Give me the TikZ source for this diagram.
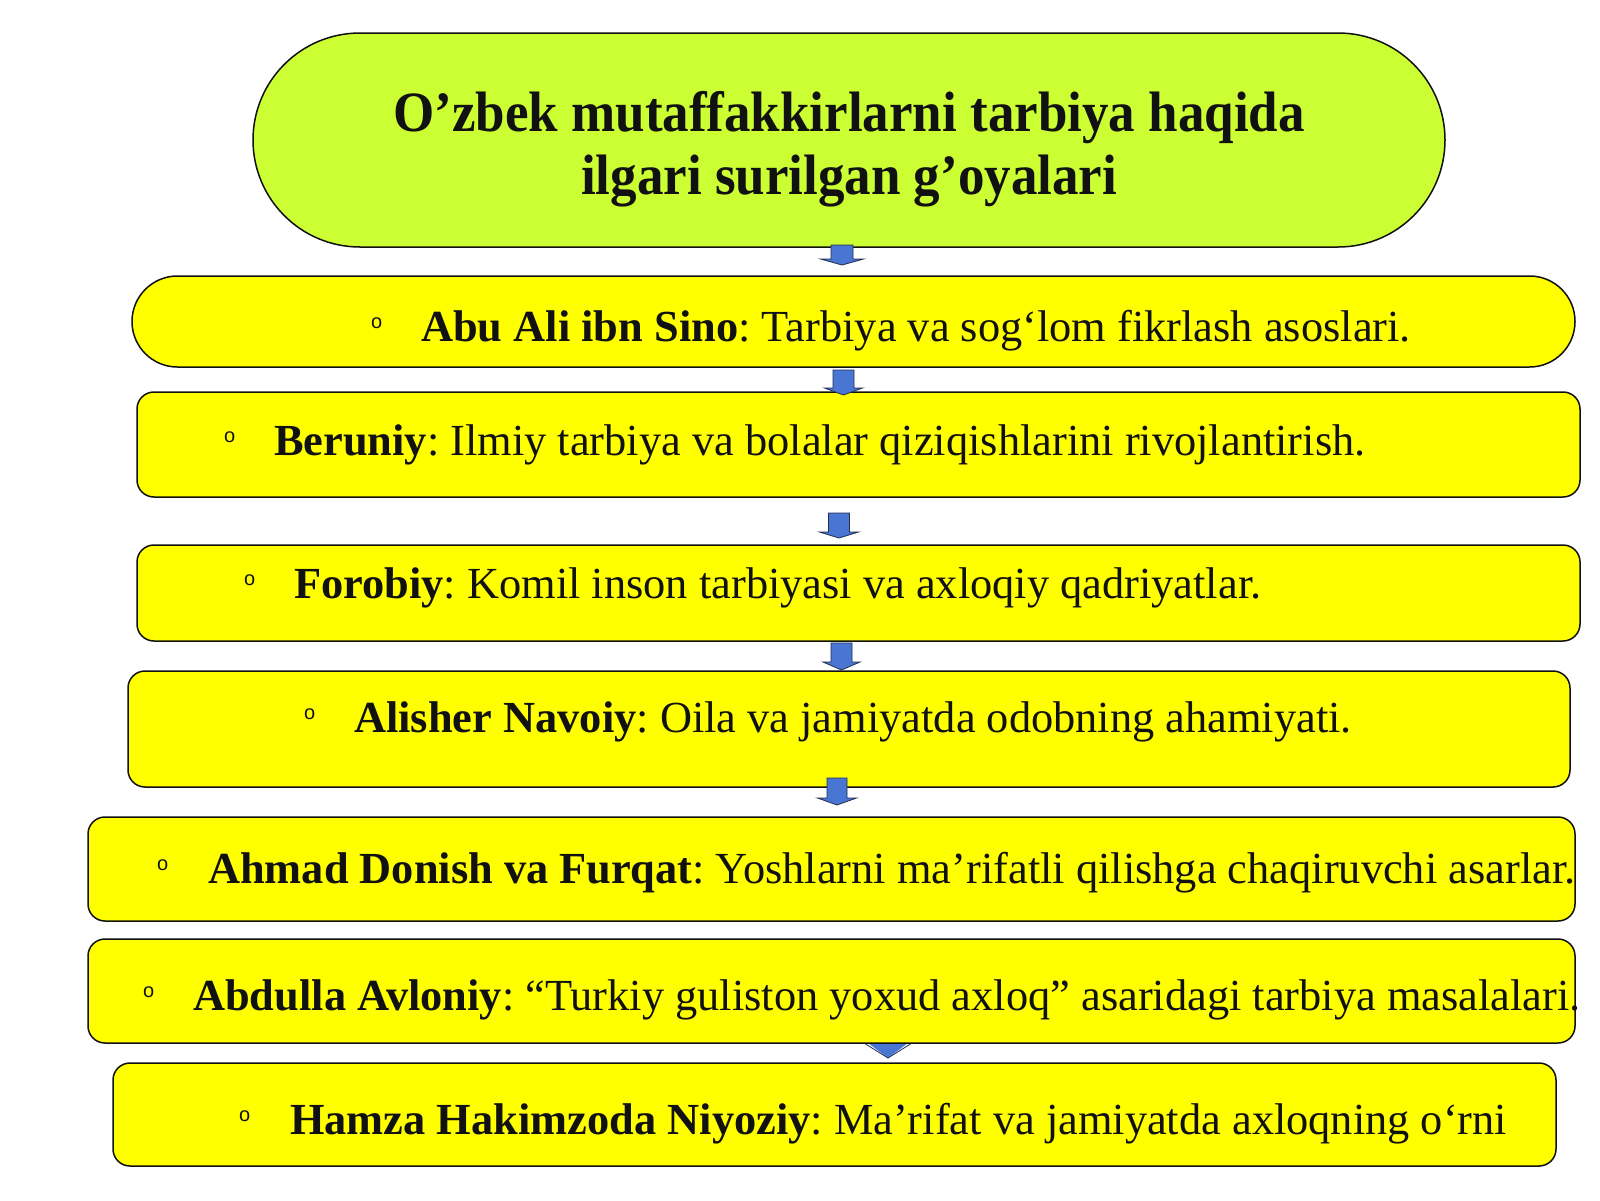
\documentclass[tikz,border=0pt]{standalone}
\usepackage{fontspec}
\setmainfont{Liberation Serif}
\newfontfamily\bulletfont{Liberation Sans}
\frenchspacing
\definecolor{boxyellow}{RGB}{255,255,0}
\definecolor{titlegreen}{RGB}{204,255,51}
\definecolor{arrblue}{RGB}{72,118,210}
\definecolor{arredge}{RGB}{35,45,80}
\definecolor{ink}{RGB}{17,17,17}
\tikzset{
  ybox/.style={draw=ink, line width=1.5pt, fill=boxyellow, inner sep=0pt, outer sep=0pt, rounded corners=17pt},
  tbox/.style={draw=ink, line width=1.5pt, fill=titlegreen, inner sep=0pt, outer sep=0pt},
  itemtext/.style={anchor=base west, inner sep=0pt, text=ink, font=\fontsize{44.4}{54}\selectfont},
  titletext/.style={anchor=base, inner sep=0pt, text=ink, font=\fontsize{57}{63}\selectfont\bfseries},
  bul/.style={anchor=base west, inner sep=0pt, text=ink, font=\bulletfont\fontsize{20}{24}\selectfont},
  blockarrow/.style={fill=arrblue, draw=arredge, line width=0.8pt, line join=miter}
}
% cx, shaft half width, head half width, top, head base, tip
\newcommand\blockarr[6]{%
  \draw[blockarrow] (#1-#2,#4) -- (#1+#2,#4) -- (#1+#2,#5) -- (#1+#3,#5) -- (#1,#6) -- (#1-#3,#5) -- (#1-#2,#5) -- cycle;}
\newcommand\narrowtitle[1]{\scalebox{0.93}[1]{#1}}
\begin{document}
\begin{tikzpicture}[x=1pt,y=-1pt]
\useasboundingbox (0,0) rectangle (1600,1200);
\fill[white] (0,0) rectangle (1600,1200);

% boxes
\node[tbox, rounded corners=107pt, minimum width=1192pt, minimum height=214pt] (t) at (849,140) {};
\node[ybox, rounded corners=45.5pt, minimum width=1443pt, minimum height=91pt] (b1) at (853.5,321.5) {};
\node[ybox, minimum width=1443pt, minimum height=105pt] (b2) at (858.5,444.5) {};
\node[ybox, minimum width=1443pt, minimum height=96pt] (b3) at (858.5,593) {};
\node[ybox, minimum width=1442pt, minimum height=116pt] (b4) at (849,729) {};
\node[ybox, minimum width=1487pt, minimum height=104pt] (b5) at (831.5,869) {};
\fill[arrblue] (864,1040) -- (912,1040) -- (888,1058) -- cycle;
\draw[arredge, line width=0.8pt] (864,1043) -- (888,1058) -- (912,1043);
\node[ybox, minimum width=1487pt, minimum height=104pt] (b6) at (831.5,991) {};
\node[ybox, minimum width=1443pt, minimum height=103pt] (b7) at (834.5,1114.5) {};

% arrows
\blockarr{842}{11}{21.5}{245}{259}{265}
\blockarr{843.5}{10.5}{19}{370}{388}{395}
\blockarr{839}{10.5}{19.5}{513}{532}{538}
\blockarr{841.5}{10.5}{18.5}{643}{662}{670}
\blockarr{837}{10}{19.5}{778}{798}{805}

% title
\node[titletext] (t1) at (849,131) {\narrowtitle{O’zbek mutaffakkirlarni tarbiya haqida}};
\node[titletext] (t2) at (849,194) {\narrowtitle{ilgari surilgan g’oyalari}};

% bullets
\node[bul] (o1) at (371,328) {o};
\node[bul] (o2) at (224,442) {o};
\node[bul] (o3) at (244,585) {o};
\node[bul] (o4) at (304,719) {o};
\node[bul] (o5) at (157,870) {o};
\node[bul] (o6) at (143,997) {o};
\node[bul] (o7) at (239,1121) {o};

% item texts
\node[itemtext] (x1) at (421,341) {\textbf{Abu Ali ibn Sino}: Tarbiya va sog‘lom fikrlash asoslari.};
\node[itemtext] (x2) at (274,455) {\textbf{Beruniy}: Ilmiy tarbiya va bolalar qiziqishlarini rivojlantirish.};
\node[itemtext] (x3) at (294,598) {\textbf{Forobiy}: Komil inson tarbiyasi va axloqiy qadriyatlar.};
\node[itemtext] (x4) at (354,732) {\textbf{Alisher Navoiy}: Oila va jamiyatda odobning ahamiyati.};
\node[itemtext] (x5) at (208,883) {\textbf{Ahmad Donish va Furqat}: Yoshlarni ma’rifatli qilishga chaqiruvchi asarlar.};
\node[itemtext] (x6) at (193,1010) {\textbf{Abdulla Avloniy}: “Turkiy guliston yoxud axloq” asaridagi tarbiya masalalari.};
\node[itemtext] (x7) at (290,1134) {\textbf{Hamza Hakimzoda Niyoziy}: Ma’rifat va jamiyatda axloqning o‘rni};
\end{tikzpicture}
\end{document}
